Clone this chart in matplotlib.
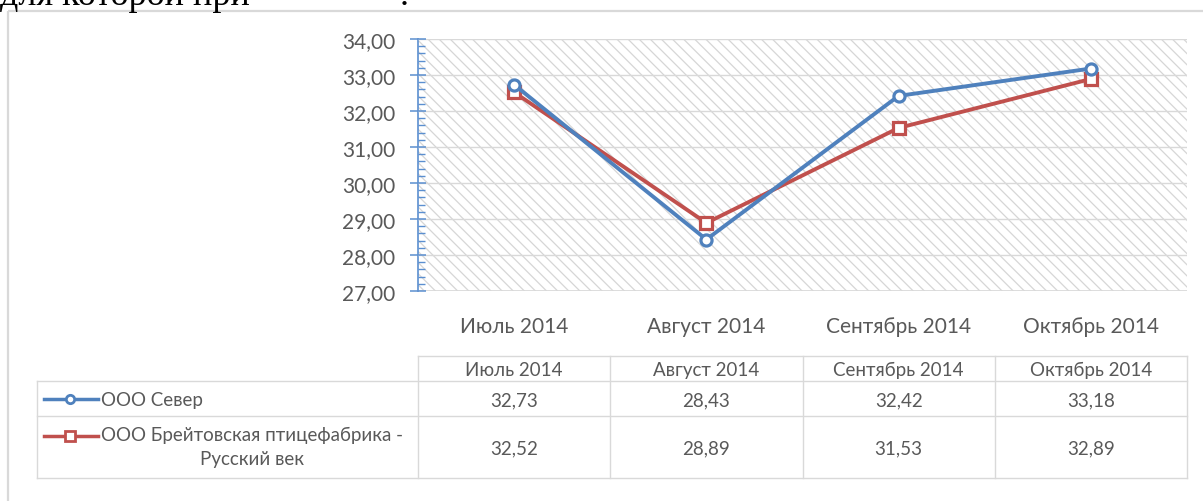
import matplotlib
matplotlib.use("Agg")
import matplotlib.pyplot as plt
from matplotlib.ticker import MultipleLocator, FuncFormatter
from matplotlib.lines import Line2D

categories = ["Июль 2014", "Август 2014", "Сентябрь 2014", "Октябрь 2014"]
series_names = ["ООО Север", "ООО Брейтовская птицефабрика -\nРусский век"]
sever = [32.73, 28.43, 32.42, 33.18]
breit = [32.52, 28.89, 31.53, 32.89]
y_min, y_max = 27.0, 34.0

W, H = 1203, 502
plt.rcParams['font.family'] = ['Lato', 'Roboto', 'DejaVu Sans']
plt.rcParams['hatch.color'] = '#d6d6d6'
plt.rcParams['hatch.linewidth'] = 0.9

BLUE = '#4F81BD'
RED = '#C0504D'
GRAY_TXT = '#595959'
GRID = '#d9d9d9'

fig = plt.figure(figsize=(W / 100, H / 100), dpi=100)

# pixel layout
PL, PR, PT, PB = 418, 1187, 40, 292

# overlay in pixel coordinates
ov = fig.add_axes([0, 0, 1, 1], zorder=0)
ov.set_xlim(0, W)
ov.set_ylim(H, 0)
ov.axis('off')

# outer frame (chart border)
ov.plot([8, W], [12, 12], color='#d9d9d9', lw=1.6, solid_capstyle='butt')
ov.plot([8, 8], [12, H], color='#d9d9d9', lw=1.6, solid_capstyle='butt')

# clipped document text on top
ov.text(0, 5, "для которой при", fontsize=26, family='Liberation Serif',
        color='black', ha='left', va='baseline')
ov.text(400, 5, ".", fontsize=26, family='Liberation Serif',
        color='black', ha='left', va='baseline')

ax = fig.add_axes([PL / W, 1 - PB / H, (PR - PL) / W, (PB - PT) / H], zorder=2)
x = list(range(len(categories)))
ax.set_xlim(-0.5, len(categories) - 0.5)
ax.set_ylim(y_min, y_max)

# hatched background
ax.patch.set_facecolor('white')
ax.fill_between([-0.5, len(categories) - 0.5], y_min, y_max, facecolor='white',
                edgecolor='#d6d6d6', hatch='\\\\\\', linewidth=0, zorder=0)

ax.yaxis.set_major_locator(MultipleLocator(1))
ax.yaxis.set_minor_locator(MultipleLocator(0.2))
ax.yaxis.set_major_formatter(FuncFormatter(lambda v, p: f"{v:.2f}".replace('.', ',')))
ax.grid(axis='y', which='major', color=GRID, lw=1.0, zorder=1)
ax.set_axisbelow(False)
for s in ['top', 'right', 'bottom']:
    ax.spines[s].set_visible(False)
ax.spines['left'].set_color('#5B8FD0')
ax.spines['left'].set_linewidth(1.2)
ax.tick_params(axis='y', which='major', direction='inout', length=11, width=1.1,
               color='#5B8FD0', labelsize=15, labelcolor=GRAY_TXT, pad=11)
ax.tick_params(axis='y', which='minor', direction='in', length=5, width=1.0,
               color='#5B8FD0')
ax.set_xticks(x)
ax.set_xticklabels(categories)
ax.tick_params(axis='x', length=0, labelsize=15, labelcolor=GRAY_TXT, pad=18)
ax.axhline(y_min, color=GRID, lw=1.2, zorder=1)

ax.plot(x, sever, color=BLUE, lw=2.8, marker='o', ms=8, mew=2.3,
        mfc='white', mec=BLUE, zorder=4, clip_on=False)
ax.plot(x, breit, color=RED, lw=2.8, marker='s', ms=8.5, mew=2.3,
        mfc='white', mec=RED, zorder=3, clip_on=False)

# data table
n = len(categories)
colw = (PR - PL) / n
T_top, T_h1, T_r1, T_bot = 357, 382, 417, 479
TL = 37
lc = GRID
tlw = 1.0
ov.plot([PL, PR], [T_top, T_top], color=lc, lw=tlw)
for yy in [T_h1, T_r1, T_bot]:
    ov.plot([TL, PR], [yy, yy], color=lc, lw=tlw)
ov.plot([TL, TL], [T_h1, T_bot], color=lc, lw=tlw)
for i in range(n + 1):
    xx = PL + i * colw
    ov.plot([xx, xx], [T_top, T_bot], color=lc, lw=tlw)

tfs = 13.5
for i, c in enumerate(categories):
    cx = PL + (i + 0.5) * colw
    ov.text(cx, (T_top + T_h1) / 2 + 1, c, ha='center', va='center', fontsize=tfs, color=GRAY_TXT)
    ov.text(cx, (T_h1 + T_r1) / 2 + 1, f"{sever[i]:.2f}".replace('.', ','), ha='center',
            va='center', fontsize=tfs, color=GRAY_TXT)
    ov.text(cx, (T_r1 + T_bot) / 2 + 1, f"{breit[i]:.2f}".replace('.', ','), ha='center',
            va='center', fontsize=tfs, color=GRAY_TXT)

# legend keys inside the table
r1y = (T_h1 + T_r1) / 2
r2y = 437
ov.add_line(Line2D([44, 98], [r1y, r1y], color=BLUE, lw=2.5))
ov.plot([70], [r1y], marker='o', ms=6, mew=2, mfc='white', mec=BLUE, color=BLUE)
ov.add_line(Line2D([44, 98], [r2y, r2y], color=RED, lw=2.5))
ov.plot([70], [r2y], marker='s', ms=6.5, mew=2, mfc='white', mec=RED, color=RED)
ov.text(101, r1y + 1, series_names[0], ha='left', va='center', fontsize=tfs, color=GRAY_TXT)
ov.text(101, r2y - 10, series_names[1], ha='left', va='top', multialignment='center',
        fontsize=tfs, color=GRAY_TXT, linespacing=1.5)

fig.savefig("out.png", dpi=100, facecolor='white')
